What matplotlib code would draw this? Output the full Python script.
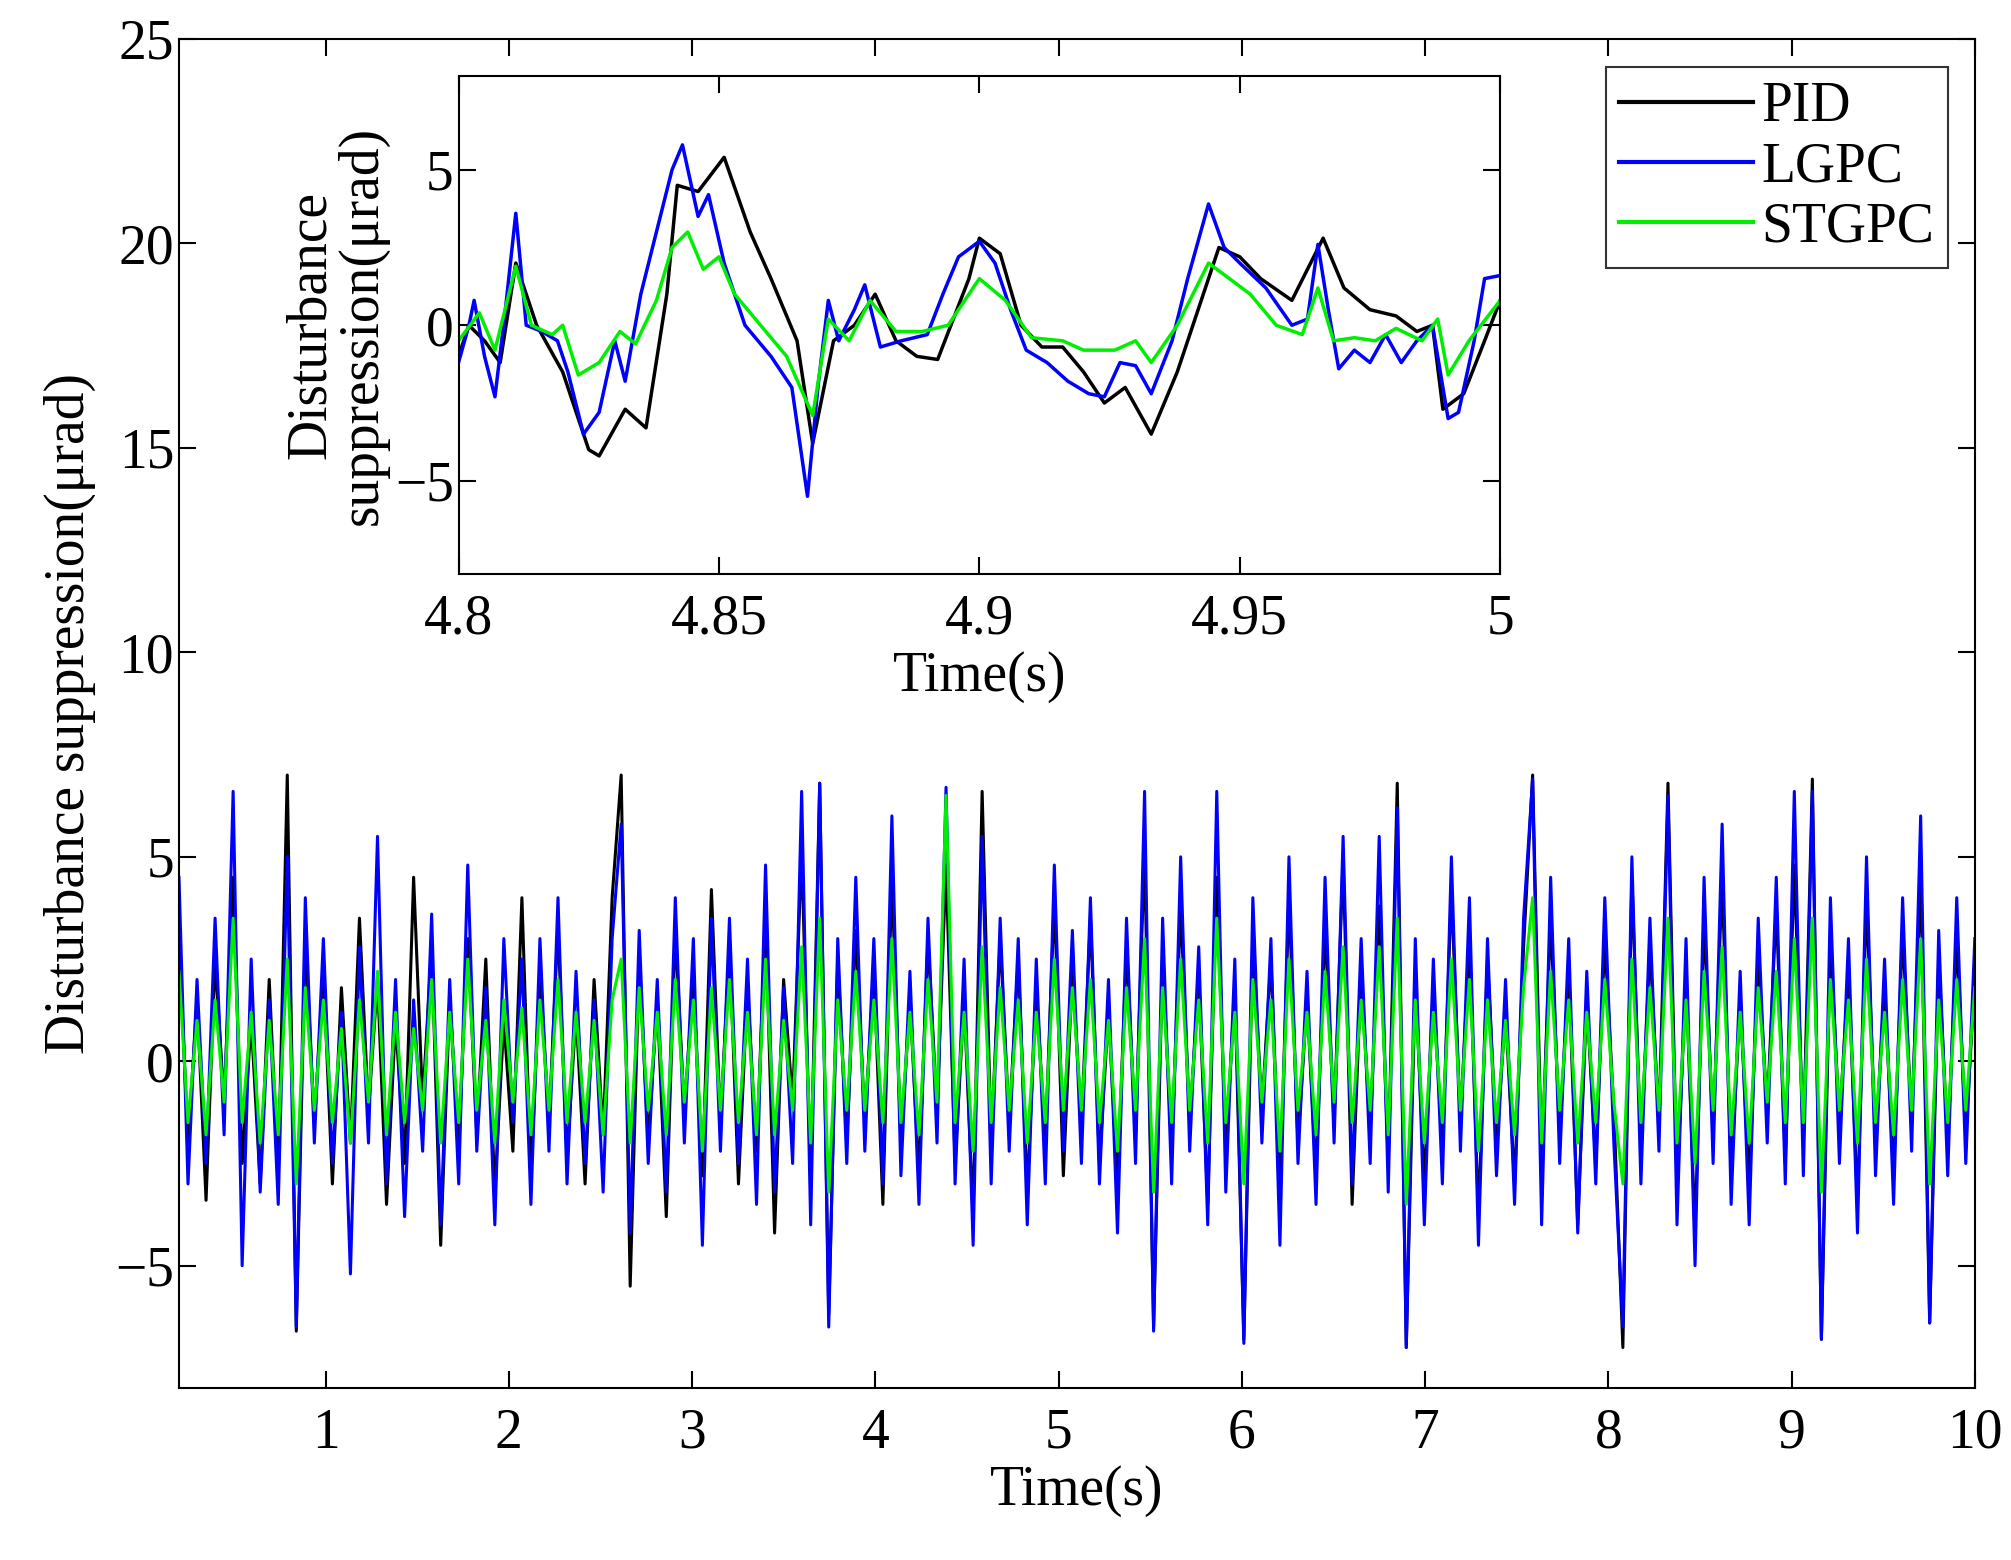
import numpy as np
import matplotlib.pyplot as plt

plt.rcParams['font.family'] = 'Liberation Serif'

# ============== DATA ==============

# main plot: hand-read samples over 0.2 .. 10 s
pid_main = [
	3, -2, 1.5, -3.4, 2.5, -1, 4.5, -2.5, 1, -3,
	2, -2.8, 7, -6.6, 3, -1.5, 2.2, -3, 1.8, -2,
	3.5, -1.2, 2, -3.5, 1, -2.5, 4.5, -1, 2.8, -4.5,
	1.5, -2, 3, -1.8, 2.5, -3.2, 1, -2.2, 4, -2.8,
	2.2, -1.5, 3.3, -2.4, 1.2, -3, 2, -1.8, 4, 7,
	-5.5, 2.5, -2, 1.5, -3.8, 3.2, -1.2, 2, -2.8, 4.2,
	-1.5, 2.8, -3, 1.8, -2.2, 3.5, -4.2, 2, -1, 5.2,
	-3, 6.8, -6.2, 2.5, -2, 3.2, -1.5, 2.2, -3.5, 4.5,
	-2, 1.5, -2.8, 3, -1.2, 4.8, -2.5, 1.5, -3.8, 6.6,
	-2, 3, -1.5, 2.5, -3.2, 1.8, -2, 4, -2.8, 2.2,
	-1.5, 3.5, -2.5, 1.2, -3, 2.8, -1.8, 5.2, -6.5, 2.5,
	-2.2, 3.8, -1.5, 2, -3.5, 4.5, -2.2, 1.8, -6.8, 3,
	-1.2, 2.5, -3.2, 4, -2, 1.5, -2.8, 3.3, -1.5, 5,
	-3.5, 2.2, -1.8, 3.8, -2.5, 6.8, -7, 2, -3, 1.8,
	-2.2, 4.2, -1.5, 3, -3.8, 2.5, -2, 1.2, -3, 2.8,
	7, -2.5, 3.5, -1.8, 2.2, -4, 1.5, -2.5, 3, -1.2,
	-7, 4.5, -2.2, 2.8, -1.5, 6.8, -3, 2, -4.2, 3.5,
	-1.8, 4.5, -2.8, 1.5, -3, 2.5, -1.2, 3.8, -2.5, 4.8,
	-2, 6.9, -6.8, 3, -1.5, 2.2, -3.5, 4, -2, 1.8,
	-2.8, 3.2, -1.5, 4.5, -6.4, 2.5, -2, 3, -1.8, 2,
]
lgpc_main = [
	4.5, -3, 2, -2.5, 3.5, -1.8, 6.6, -5, 2.5, -3.2,
	1.5, -3.5, 5, -6.5, 4, -2, 3, -2.5, 1.2, -5.2,
	2.8, -2, 5.5, -3, 2, -3.8, 1.5, -2.2, 3.6, -4,
	2, -3, 4.8, -2.2, 1.8, -4, 3, -1.5, 2.5, -3.5,
	3, -2.2, 4, -3, 2.2, -2.5, 1.5, -3.2, 3, 5.8,
	-4.2, 3.2, -2.5, 2, -3.2, 4, -2, 3, -4.5, 3.5,
	-2.2, 3.5, -2.5, 2.5, -3.5, 4.8, -3.2, 1.8, -2.5, 6.6,
	-4, 6.8, -6.5, 3, -2.5, 4.5, -2.2, 3, -3, 6,
	-2.8, 2.2, -3.5, 3.5, -2, 6.7, -3, 2.5, -4.5, 5.5,
	-3, 3.5, -2.2, 3, -4, 2.5, -3, 4.8, -2.2, 3.2,
	-2.5, 4, -3, 2, -4.2, 3.5, -2.5, 6.6, -6.6, 3.5,
	-3, 5, -2.2, 2.8, -4, 6.6, -3.2, 2.5, -6.9, 4,
	-2, 3, -4.5, 5, -2.5, 2.2, -3.5, 4.5, -2, 5.5,
	-3, 3, -2.5, 5.5, -3.2, 6.2, -7, 3, -4, 2.5,
	-3, 5, -2.2, 4, -4.5, 3, -2.8, 2, -3.5, 3.5,
	6.9, -4, 4.5, -2.5, 3, -4.2, 2.2, -3, 4, -2,
	-6.5, 5, -3, 3.5, -2.2, 6.5, -4, 3, -5, 4.5,
	-2.5, 5.8, -3.5, 2.2, -4, 3.5, -2, 4.5, -3, 6.6,
	-2.8, 6.6, -6.8, 4, -2.5, 3, -4.2, 5, -2.8, 2.5,
	-3.5, 4, -2.2, 6, -6.4, 3.2, -2.8, 4, -2.5, 3,
]
stgpc_main = [
	2.2, -1.5, 1, -1.8, 1.5, -1, 3.5, -1.5, 1.2, -2,
	1, -1.8, 2.5, -3, 1.8, -1.2, 1.5, -1.5, 0.8, -2,
	1.5, -1, 2.2, -1.8, 1.2, -1.5, 0.8, -1.2, 2, -2,
	1.2, -1.5, 2.5, -1.2, 1, -2, 1.5, -1, 1.3, -1.8,
	1.5, -1.2, 2, -1.5, 1.2, -1.5, 1, -1.8, 1.5, 2.5,
	-2, 1.8, -1.2, 1.2, -1.8, 2, -1, 1.5, -2.2, 1.8,
	-1.2, 2, -1.5, 1.2, -1.8, 2.5, -1.8, 1, -1.2, 2.8,
	-2, 3.5, -3.2, 1.5, -1.2, 2.2, -1.2, 1.5, -1.5, 3,
	-1.5, 1.2, -1.8, 2, -1, 6.5, -1.5, 1.2, -2.2, 2.8,
	-1.5, 1.8, -1.2, 1.5, -2, 1.2, -1.5, 2.5, -1.2, 1.8,
	-1.2, 2, -1.5, 1, -2.2, 1.8, -1.2, 3, -3.2, 1.8,
	-1.5, 2.5, -1.2, 1.5, -2, 3.5, -1.5, 1.2, -3, 2,
	-1, 1.5, -2.2, 2.5, -1.2, 1.2, -1.8, 2.2, -1, 2.8,
	-1.5, 1.5, -1.2, 2.8, -1.8, 3.5, -3.5, 1.5, -2, 1.2,
	-1.5, 2.5, -1.2, 2, -2.2, 1.5, -1.5, 1, -1.8, 1.8,
	4, -2, 2.2, -1.2, 1.5, -2, 1.2, -1.5, 2, -1,
	-3, 2.5, -1.5, 1.8, -1.2, 3.5, -2, 1.5, -2.5, 2.2,
	-1.2, 2.8, -1.8, 1.2, -2, 1.8, -1, 2.2, -1.5, 3,
	-1.5, 3.5, -3.2, 2, -1.2, 1.5, -2, 2.5, -1.5, 1.2,
	-1.8, 2, -1.2, 3, -3, 1.5, -1.5, 2, -1.2, 1.8,
]
t_main = np.linspace(0.2, 10, len(pid_main))

# inset: zoomed window 4.8 .. 5 s
pid_t = [4.8, 4.802, 4.805, 4.808, 4.811, 4.815, 4.82, 4.825, 4.827, 4.832, 4.836,
	4.84, 4.842, 4.846, 4.851, 4.856, 4.86, 4.865, 4.868, 4.872, 4.876, 4.88,
	4.884, 4.888, 4.892, 4.898, 4.9, 4.904, 4.908, 4.912, 4.916, 4.92, 4.924,
	4.928, 4.933, 4.938, 4.942, 4.946, 4.95, 4.954, 4.96, 4.966, 4.97, 4.975,
	4.98, 4.984, 4.987, 4.989, 4.993, 4.997, 5.0]
pid_y = [-1, 0, -0.5, -1.2, 2, 0, -1.5, -4, -4.2, -2.7, -3.3,
	1, 4.5, 4.3, 5.4, 3, 1.5, -0.5, -3.8, -0.5, 0, 1,
	-0.5, -1, -1.1, 1.5, 2.8, 2.3, 0, -0.7, -0.7, -1.5, -2.5,
	-2, -3.5, -1.5, 0.5, 2.5, 2.2, 1.5, 0.8, 2.8, 1.2, 0.5,
	0.3, -0.2, 0, -2.7, -2.2, -0.5, 0.8]
lgpc_t = [4.8, 4.802, 4.803, 4.805, 4.807, 4.809, 4.811, 4.813, 4.816, 4.819, 4.821,
	4.824, 4.827, 4.83, 4.832, 4.835, 4.838, 4.841, 4.843, 4.846, 4.848, 4.851,
	4.855, 4.86, 4.864, 4.867, 4.869, 4.871, 4.873, 4.876, 4.878, 4.881, 4.885,
	4.89, 4.893, 4.896, 4.9, 4.903, 4.906, 4.909, 4.913, 4.917, 4.921, 4.924,
	4.927, 4.93, 4.933, 4.937, 4.94, 4.944, 4.947, 4.95, 4.955, 4.96, 4.963,
	4.965, 4.967, 4.969, 4.972, 4.975, 4.978, 4.981, 4.984, 4.987, 4.99, 4.992,
	4.995, 4.997, 5.0]
lgpc_y = [-1.2, 0, 0.8, -1, -2.3, 0.5, 3.6, 0, -0.2, -0.5, -1.5,
	-3.5, -2.8, -0.5, -1.8, 1, 3, 5, 5.8, 3.5, 4.2, 2,
	0, -1, -2, -5.5, -2, 0.8, -0.5, 0.5, 1.3, -0.7, -0.5,
	-0.3, 1, 2.2, 2.7, 2, 0.5, -0.8, -1.2, -1.8, -2.2, -2.3,
	-1.2, -1.3, -2.2, -0.5, 1.5, 3.9, 2.5, 2, 1.2, 0, 0.2,
	2.6, 0.5, -1.4, -0.8, -1.2, -0.3, -1.2, -0.5, 0, -3, -2.8,
	-0.5, 1.5, 1.6]
stgpc_t = [4.8, 4.804, 4.807, 4.811, 4.814, 4.818, 4.82, 4.823, 4.827, 4.831, 4.834,
	4.838, 4.841, 4.844, 4.847, 4.85, 4.853, 4.858, 4.863, 4.868, 4.871, 4.875,
	4.879, 4.884, 4.889, 4.894, 4.9, 4.905, 4.91, 4.916, 4.92, 4.926, 4.93,
	4.933, 4.938, 4.944, 4.948, 4.952, 4.957, 4.962, 4.965, 4.968, 4.972, 4.976,
	4.98, 4.985, 4.988, 4.99, 4.994, 5.0]
stgpc_y = [-0.5, 0.4, -0.8, 1.9, 0, -0.3, 0, -1.6, -1.2, -0.2, -0.6,
	0.8, 2.5, 3, 1.8, 2.2, 1, 0, -1, -2.9, 0.2, -0.5,
	0.8, -0.2, -0.2, 0, 1.5, 0.8, -0.4, -0.5, -0.8, -0.8, -0.5,
	-1.2, 0, 2, 1.5, 1, 0, -0.3, 1.2, -0.5, -0.4, -0.5,
	-0.1, -0.5, 0.2, -1.6, -0.5, 0.8]

COLORS = {'PID': 'black', 'LGPC': '#0000ff', 'STGPC': '#00ee00'}
FS = 40


def style_axes(ax, fs):
	ax.tick_params(direction='in', top=True, right=True, labelsize=fs, length=12, width=1.5)
	ax.tick_params(axis='x', pad=14)
	for sp in ax.spines.values():
		sp.set_linewidth(1.5)


fig = plt.figure(figsize=(20.11, 15.6), dpi=100)

# ============== MAIN AXES ==============
ax = fig.add_axes([0.089, 0.110, 0.893, 0.865])
ax.plot(t_main, pid_main, color=COLORS['PID'], lw=2.2, label='PID')
ax.plot(t_main, lgpc_main, color=COLORS['LGPC'], lw=2.2, label='LGPC')
ax.plot(t_main, stgpc_main, color=COLORS['STGPC'], lw=2.2, label='STGPC')
ax.set_xlim(0.2, 10)
ax.set_ylim(-8, 25)
ax.set_xticks(range(1, 11))
ax.set_yticks([-5, 0, 5, 10, 15, 20, 25])
ax.set_yticklabels(['\u22125', '0', '5', '10', '15', '20', '25'])
ax.set_xlabel('Time(s)', fontsize=FS, labelpad=4)
ax.set_ylabel('Disturbance suppression(\u03bcrad)', fontsize=FS, labelpad=14)
style_axes(ax, FS)
leg = ax.legend(loc='upper right', bbox_to_anchor=(0.985, 0.979), fontsize=FS,
	frameon=True, fancybox=False, edgecolor='black', handlelength=2.4,
	borderpad=0.25, labelspacing=0.15, handletextpad=0.15, borderaxespad=0)
leg.get_frame().set_linewidth(1.5)
for line in leg.get_lines():
	line.set_linewidth(3)

# ============== INSET ==============
ins = fig.add_axes([0.228, 0.632, 0.518, 0.319])
ins.plot(pid_t, pid_y, color=COLORS['PID'], lw=2.5)
ins.plot(lgpc_t, lgpc_y, color=COLORS['LGPC'], lw=2.5)
ins.plot(stgpc_t, stgpc_y, color=COLORS['STGPC'], lw=2.5)
ins.set_xlim(4.8, 5.0)
ins.set_ylim(-8, 8)
ins.set_xticks([4.8, 4.85, 4.9, 4.95, 5.0])
ins.set_xticklabels(['4.8', '4.85', '4.9', '4.95', '5'])
ins.set_yticks([-5, 0, 5])
ins.set_yticklabels(['\u22125', '0', '5'])
ins.set_xlabel('Time(s)', fontsize=FS, labelpad=4)
ins.set_ylabel('Disturbance\nsuppression(\u03bcrad)', fontsize=FS, linespacing=1.0)
style_axes(ins, FS)

fig.savefig('out.png', dpi=100)
